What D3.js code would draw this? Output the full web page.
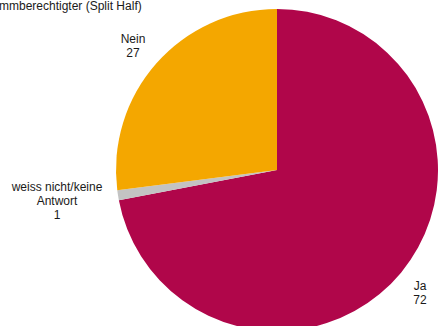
<!DOCTYPE html>
<html>
<head>
<meta charset="utf-8">
<script src="https://cdn.jsdelivr.net/npm/d3@7"></script>
<style>
  html, body { margin: 0; padding: 0; background: #fff; }
  svg { display: block; }
  text { font-family: "Liberation Sans", Arial, sans-serif; fill: #1a1a1a; }
</style>
</head>
<body>
<svg id="chart" width="438" height="326"></svg>
<script>
// Antworten in Prozent
const categories = ["Ja", "weiss nicht/keine Antwort", "Nein"];
const values = [72, 1, 27];
const labelLines = [["Ja", "72"], ["weiss nicht/keine", "Antwort", "1"], ["Nein", "27"]];
const colors = ["#b0064a", "#c3c3c3", "#f4a700"];
const titleText = "mmberechtigter (Split Half)";

const svg = d3.select("#chart");
const cx = 277, cy = 170, radius = 161;

const data = categories.map((c, i) => ({ cat: c, value: values[i], lines: labelLines[i], color: colors[i] }));

const pie = d3.pie().sort(null).value(d => d.value);
const arc = d3.arc().innerRadius(0).outerRadius(radius);
const arcs = pie(data);

const g = svg.append("g").attr("transform", `translate(${cx},${cy})`);
g.selectAll("path")
  .data(arcs)
  .join("path")
  .attr("d", arc)
  .attr("fill", d => d.data.color);

// Beschriftungen ausserhalb der Segmente
const labelPos = [
  { x: 420, y: 290 },
  { x: 57, y: 191 },
  { x: 133, y: 43 }
];
const lh = 14;
data.forEach((d, i) => {
  const t = svg.append("text")
    .attr("text-anchor", "middle")
    .attr("font-size", 12);
  d.lines.forEach((ln, j) => {
    t.append("tspan").attr("x", labelPos[i].x).attr("y", labelPos[i].y + j * lh).text(ln);
  });
});

svg.append("text")
  .attr("x", -1)
  .attr("y", 10)
  .attr("font-size", 12)
  .text(titleText);
</script>
</body>
</html>
